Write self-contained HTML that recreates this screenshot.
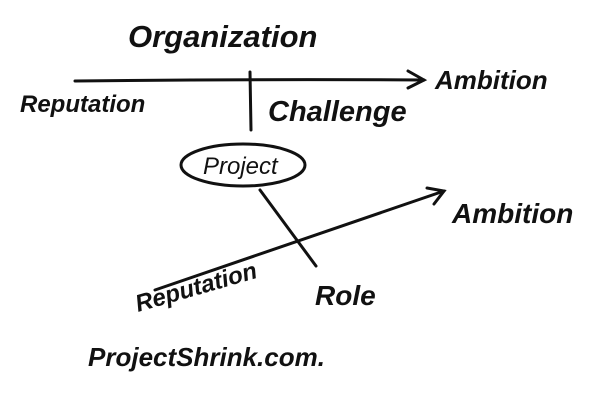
<!DOCTYPE html>
<html>
<head>
<meta charset="utf-8">
<style>
html,body{margin:0;padding:0;background:#fff;}
svg{display:block;}
text{font-family:"Liberation Sans",sans-serif;fill:#111;}
</style>
</head>
<body>
<svg width="600" height="400" viewBox="0 0 600 400" xmlns="http://www.w3.org/2000/svg">
<g stroke="#111" stroke-width="3" fill="none" stroke-linecap="round">
  <path d="M75 81 Q250 79 424 80"/>
  <path d="M408 71 L424 80 L408 88"/>
  <path d="M250 72 L251 130"/>
  <ellipse cx="243" cy="165" rx="62" ry="21"/>
  <path d="M260 190 L316 266"/>
  <path d="M155 290 L444 191"/>
  <path d="M427 188 L444 191 L434 204"/>
</g>
<text x="128" y="47" font-size="31" font-weight="bold" font-style="italic">Organization</text>
<text x="435" y="89" font-size="26" font-weight="bold" font-style="italic">Ambition</text>
<text x="20" y="112" font-size="24" font-weight="bold" font-style="italic">Reputation</text>
<text x="268" y="121" font-size="29" font-weight="bold" font-style="italic">Challenge</text>
<text x="203" y="174" font-size="24" font-style="italic">Project</text>
<text x="452" y="223" font-size="28" font-weight="bold" font-style="italic">Ambition</text>
<text x="0" y="0" font-size="24" font-weight="bold" font-style="italic" transform="translate(138 312) rotate(-16)">Reputation</text>
<text x="315" y="305" font-size="28" font-weight="bold" font-style="italic">Role</text>
<text x="88" y="366" font-size="26" font-weight="bold" font-style="italic">ProjectShrink.com.</text>
</svg>
</body>
</html>
